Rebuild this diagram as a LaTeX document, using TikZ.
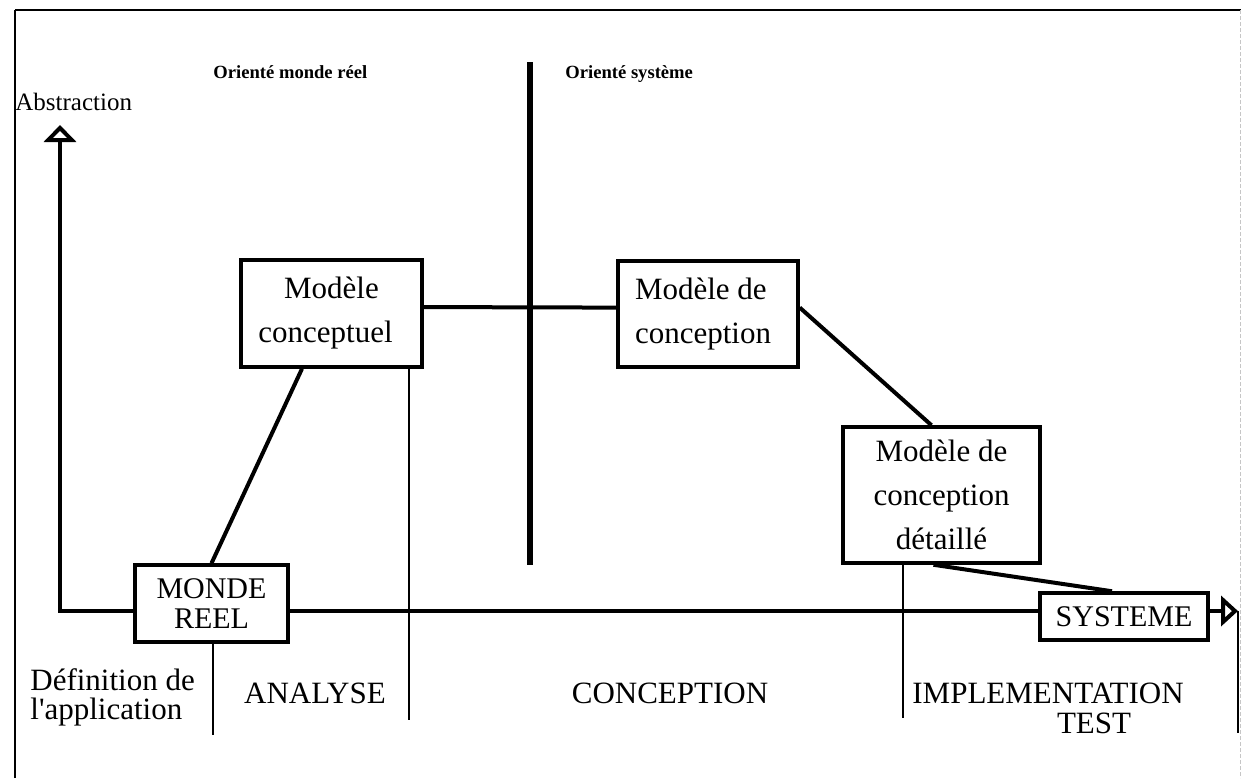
\documentclass[tikz,border=0pt]{standalone}
\usepackage{fontspec}
\setmainfont{Liberation Serif}
\usetikzlibrary{arrows.meta,calc}
\begin{document}
\begin{tikzpicture}[x=0.5pt,y=-0.5pt,
  box/.style={draw,line width=1.75pt,fill=white,inner sep=0pt,align=center},
  modelbox/.style={box,font=\fontsize{15.5}{22}\selectfont},
  flatbox/.style={box,font=\fontsize{15}{15}\selectfont},
  wire/.style={line width=2pt},
  guide/.style={line width=0.6pt},
  phase/.style={font=\fontsize{15.5}{18}\selectfont,inner sep=0pt},
  side/.style={font=\bfseries\fontsize{9.3}{11}\selectfont,inner sep=0pt},
  uptip/.style={-{Triangle[open,length=8.5pt,width=16pt]}},
  righttip/.style={-{Triangle[open,length=8.5pt,width=15pt]}},
]
\useasboundingbox (0,0) rectangle (1241,778);

% outer frame
\draw[line width=0.75pt] (15,778) -- (15,10);
\draw[line width=1pt] (15,10) -- (1241,10);
\draw[gray!45,line width=0.4pt,dash pattern=on 2pt off 1pt] (1240,10) -- (1240,778);

% models
\node[modelbox,minimum width=90.5pt,minimum height=53.5pt] (mc) at (331.5,313.5) {Modèle\\conceptuel\hspace*{6pt}};
\node[modelbox,align=left,minimum width=90pt,minimum height=53pt] (mdc) at (708,314) {Modèle de\\conception\hspace*{5pt}};
\node[modelbox,minimum width=98.5pt,minimum height=68pt] (mcd) at (941.5,495) {Modèle de\\conception\\détaillé};
\node[flatbox,minimum width=76.5pt,minimum height=38.5pt] (mr) at (211.5,603.5) {MONDE\\REEL};
\node[flatbox,minimum width=84pt,minimum height=23.5pt] (sys) at (1124,616.5) {SYSTEME};

% axes
\coordinate (origin) at (60,611);
\coordinate (ytip) at (60,125);
\coordinate (xtip) at (1238,611);
\draw[wire,uptip] (origin -| mr.west) -- (origin) -- (ytip);
\draw[wire] (mr.east |- origin) -- (sys.west |- origin);
\draw[wire,righttip] (sys.east |- origin) -- (xtip);

% divider between the two orientations
\coordinate (divtop) at (530,62);
\coordinate (divbot) at (530,565);
\draw[line width=2.6pt] (divtop) -- (divbot);

% path through the models
\draw[wire] (mr.north) -- ($(mc.south west)!0.34!(mc.south east)$);
\draw[wire] (mc.4) -- (mdc.176);
\draw[wire] (mdc.4) -- ($(mcd.north west)!0.45!(mcd.north east)$);
\draw[wire] ($(mcd.south west)!0.46!(mcd.south east)$) -- ($(sys.north west)!0.43!(sys.north east)$);

% phase separators
\coordinate (g1) at (213,735);
\coordinate (g2) at (409,720);
\coordinate (g3) at (903,718);
\coordinate (g4) at (1237,733);
\draw[guide] (mr.south -| g1) -- (g1);
\draw[guide] (mc.south -| g2) -- (g2);
\draw[guide] (mcd.south -| g3) -- (g3);
\draw[guide] (xtip) -- (xtip |- g4);

% labels
\node[side,anchor=base west] (lreal) at (213,78) {Orienté monde réel};
\node[side,anchor=base west] (lsys) at (565,78) {Orienté système};
\node[font=\fontsize{12.5}{14}\selectfont,inner sep=0pt,anchor=base west] (abs) at (15,110) {Abstraction};
\node[phase,align=left,font=\fontsize{15.5}{14.5}\selectfont,anchor=north west] (p1) at (30,668) {Définition de\\l\textquotesingle application};
\node[phase,anchor=base] (p2) at (315,703) {ANALYSE};
\node[phase,anchor=base] (p3) at (670,703) {CONCEPTION};
\node[phase,align=center,font=\fontsize{15.5}{15}\selectfont,anchor=north west] (p4) at (912,683) {IMPLEMENTATION\\\hspace*{46pt}TEST};
\end{tikzpicture}
\end{document}
